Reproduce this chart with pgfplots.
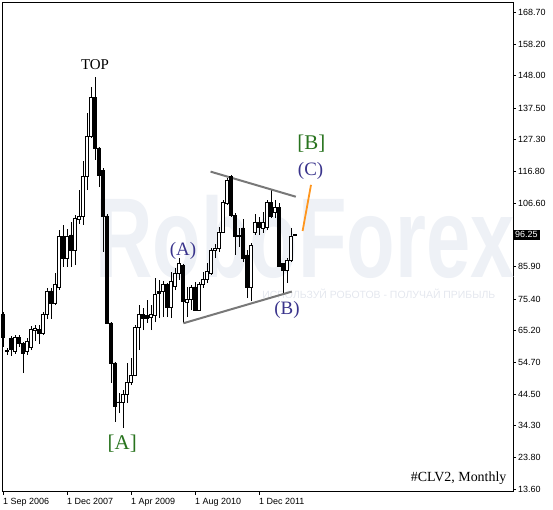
\documentclass[border=0pt]{standalone}
\usepackage{fontspec}
\setmainfont{Liberation Serif}
\newfontfamily\sansf{Liberation Sans}
\usepackage{pgfplots}
\usepackage{pgfplotstable}
\pgfplotsset{compat=1.18}
\definecolor{lblgreen}{RGB}{40,115,30}
\definecolor{lblblue}{RGB}{58,52,140}
\definecolor{trigray}{RGB}{120,120,120}
\definecolor{wmark}{RGB}{238,241,246}
\definecolor{wtext}{RGB}{228,231,238}
\definecolor{proj}{RGB}{255,150,30}

\pgfplotstableread{
i o h l c
0 70.5 71.2 59.8 63.0
1 58.4 59.5 57.2 58.6
2 62.7 63.4 56.9 59.1
3 58.5 63.7 57.5 63.0
4 63.0 63.7 59.8 60.8
5 60.8 61.4 51.3 57.8
6 58.2 62.7 57.2 61.7
7 59.5 66.6 58.8 65.6
8 65.3 66.9 61.7 65.9
9 65.6 66.9 60.8 64.3
10 64.3 71.2 63.7 70.5
11 70.5 79.0 68.9 78.0
12 78.0 79.0 68.9 74.1
13 74.1 83.8 73.4 80.0
14 79.0 97.8 78.3 95.6
15 95.6 99.5 85.8 88.7
16 88.7 98.2 85.8 95.9
17 96.2 100.4 85.8 91.3
18 91.3 102.7 86.4 101.7
19 101.4 110.8 99.8 102.1
20 102.1 120.3 99.5 115.1
21 115.1 135.9 110.8 128.1
22 128.1 144.3 127.7 140.8
23 140.8 147.6 120.6 124.5
24 124.5 124.8 111.8 115.7
25 117.3 118.0 90.7 102.1
26 102.4 103.0 67.3 67.6
27 67.6 67.9 48.1 54.6
28 54.6 54.9 35.4 40.3
29 41.9 44.8 38.3 41.6
30 41.6 45.8 33.4 44.2
31 44.2 54.6 41.6 48.4
32 48.4 56.2 47.4 50.7
33 50.7 66.9 50.3 66.3
34 66.3 73.4 58.8 70.5
35 70.5 72.5 65.3 69.2
36 69.9 75.1 67.6 69.2
37 69.5 73.4 65.3 70.5
38 70.2 82.2 67.9 77.0
39 77.7 81.6 69.2 77.3
40 77.7 81.2 69.5 80.0
41 80.0 80.6 69.5 72.5
42 72.8 84.2 69.2 81.2
43 79.6 85.5 78.3 83.8
44 83.8 88.7 81.6 86.8
45 86.4 86.8 67.6 74.7
46 74.4 79.3 69.5 75.4
47 75.1 80.0 71.8 79.0
48 79.3 80.9 71.5 71.8
49 71.8 80.9 71.5 80.0
50 80.0 84.2 79.0 81.6
51 81.6 87.1 80.6 84.2
52 83.8 92.0 83.2 91.3
53 91.3 93.3 88.7 92.0
54 92.0 98.8 90.7 97.2
55 97.2 107.6 96.9 106.9
56 106.6 114.7 106.0 114.1
57 115.1 115.7 102.1 102.7
58 102.7 103.4 89.7 95.6
59 95.6 98.5 92.3 96.2
60 98.5 101.4 87.4 88.7
61 89.7 91.3 75.7 79.0
62 79.0 93.6 74.7 92.9
63 97.2 103.0 96.2 100.4
64 100.4 102.1 96.2 98.8
65 98.5 103.7 96.9 100.4
66 98.8 107.6 97.8 106.9
67 106.9 110.8 101.7 102.1
68 103.7 107.6 101.7 105.3
69 105.3 106.6 85.8 86.1
70 86.8 87.1 77.3 84.8
71 84.8 88.7 80.6 88.1
72 88.1 98.5 87.4 95.9
73 96.0 96.5 95.8 96.25
}\candles

\pgfplotsset{common/.style={
  scale only axis, width=511bp, height=489.7bp,
  xmin=-0.25, xmax=127.5, ymin=12.72, ymax=171.97, clip=false}}

\begin{document}
\begin{tikzpicture}
\useasboundingbox (-2bp,-18.3bp) rectangle (551bp,491.7bp);
\begin{axis}[common,
  axis line style={line width=0.9bp},
  tick style={black, line width=0.8bp},
  tick align=outside, major tick length=3bp,
  xtick pos=bottom, ytick pos=right, yticklabel pos=right,
  xtick={0,16,32,48,64},
  xticklabels={1 Sep 2006,1 Dec 2007,1 Apr 2009,1 Aug 2010,1 Dec 2011},
  ytick={13.6,23.8,34.3,44.5,54.7,65.2,75.4,85.9,106.6,116.8,127.3,137.5,148.0,158.2,168.7},
  yticklabels={13.60,23.80,34.30,44.50,54.70,65.20,75.40,85.90,106.60,116.80,127.30,137.50,148.00,158.20,168.70},
  tick label style={font=\sansf\fontsize{9}{10}\selectfont, inner sep=0pt},
  xticklabel style={anchor=north west, xshift=0bp, yshift=-3bp},
  yticklabel style={anchor=west, xshift=2bp},
]
% watermark
\node[anchor=base west, text=wmark, font=\sansf\bfseries\fontsize{114}{114}\selectfont, inner sep=0pt, xscale=0.70]
  at (axis cs:23,82.5) {RoboForex};
\node[anchor=base west, text=wtext, font=\sansf\fontsize{10.5}{11}\selectfont, inner sep=0pt]
  at (axis cs:64.8,75.6) {ИСПОЛЬЗУЙ РОБОТОВ - ПОЛУЧАЙ ПРИБЫЛЬ};
% wicks
\addplot[draw=none, mark=none,
  error bars/y dir=plus, error bars/y explicit, error bars/error mark=none,
  error bars/error bar style={draw=black, solid, line width=0.9bp}]
  table[x=i, y=l, y error expr=\thisrow{h}-\thisrow{l}] {\candles};
% triangle and projection
\addplot[trigray, line width=2bp, mark=none] coordinates {(51.9,116.8) (73.2,108.65)};
\addplot[trigray, line width=2bp, mark=none] coordinates {(45.1,67.5) (72.2,77.8)};
\addplot[proj, line width=1.8bp, mark=none] coordinates {(74.9,97.5) (77.0,112.5)};
% labels
\node[font=\fontsize{15}{15}\selectfont, inner sep=0pt] at (axis cs:23,151.5) {TOP};
\node[font=\fontsize{21}{21}\selectfont, text=lblgreen, inner sep=0pt] at (axis cs:29.8,28.2) {[A]};
\node[font=\fontsize{21}{21}\selectfont, text=lblgreen, inner sep=0pt] at (axis cs:77.1,125.8) {[B]};
\node[font=\fontsize{19}{19}\selectfont, text=lblblue, inner sep=0pt] at (axis cs:45,91.0) {(A)};
\node[font=\fontsize{19}{19}\selectfont, text=lblblue, inner sep=0pt] at (axis cs:71.0,71.8) {(B)};
\node[font=\fontsize{19}{19}\selectfont, text=lblblue, inner sep=0pt] at (axis cs:76.9,117.0) {(C)};
\node[font=\fontsize{14}{14}\selectfont, anchor=base east, inner sep=0pt] at (axis cs:125.9,16.2) {\#CLV2, Monthly};
% current price box
\node[anchor=west, fill=black, text=white, font=\sansf\fontsize{9}{10}\selectfont,
  inner xsep=2bp, inner ysep=1.5bp, minimum height=10bp] at (axis cs:127.5,96.25) {96.25};
\end{axis}
\begin{axis}[common, hide axis, ybar stacked, bar width=2.4bp]
\addplot[draw=none, fill=none] table[x=i, y expr={min(\thisrow{o},\thisrow{c})}] {\candles};
\addplot[draw=black, fill=white, line width=0.8bp] table[x=i, y expr={max(\thisrow{c}-\thisrow{o},0)}] {\candles};
\addplot[draw=black, fill=black, line width=0.8bp] table[x=i, y expr={max(\thisrow{o}-\thisrow{c},0)}] {\candles};
\end{axis}
\end{tikzpicture}
\end{document}
